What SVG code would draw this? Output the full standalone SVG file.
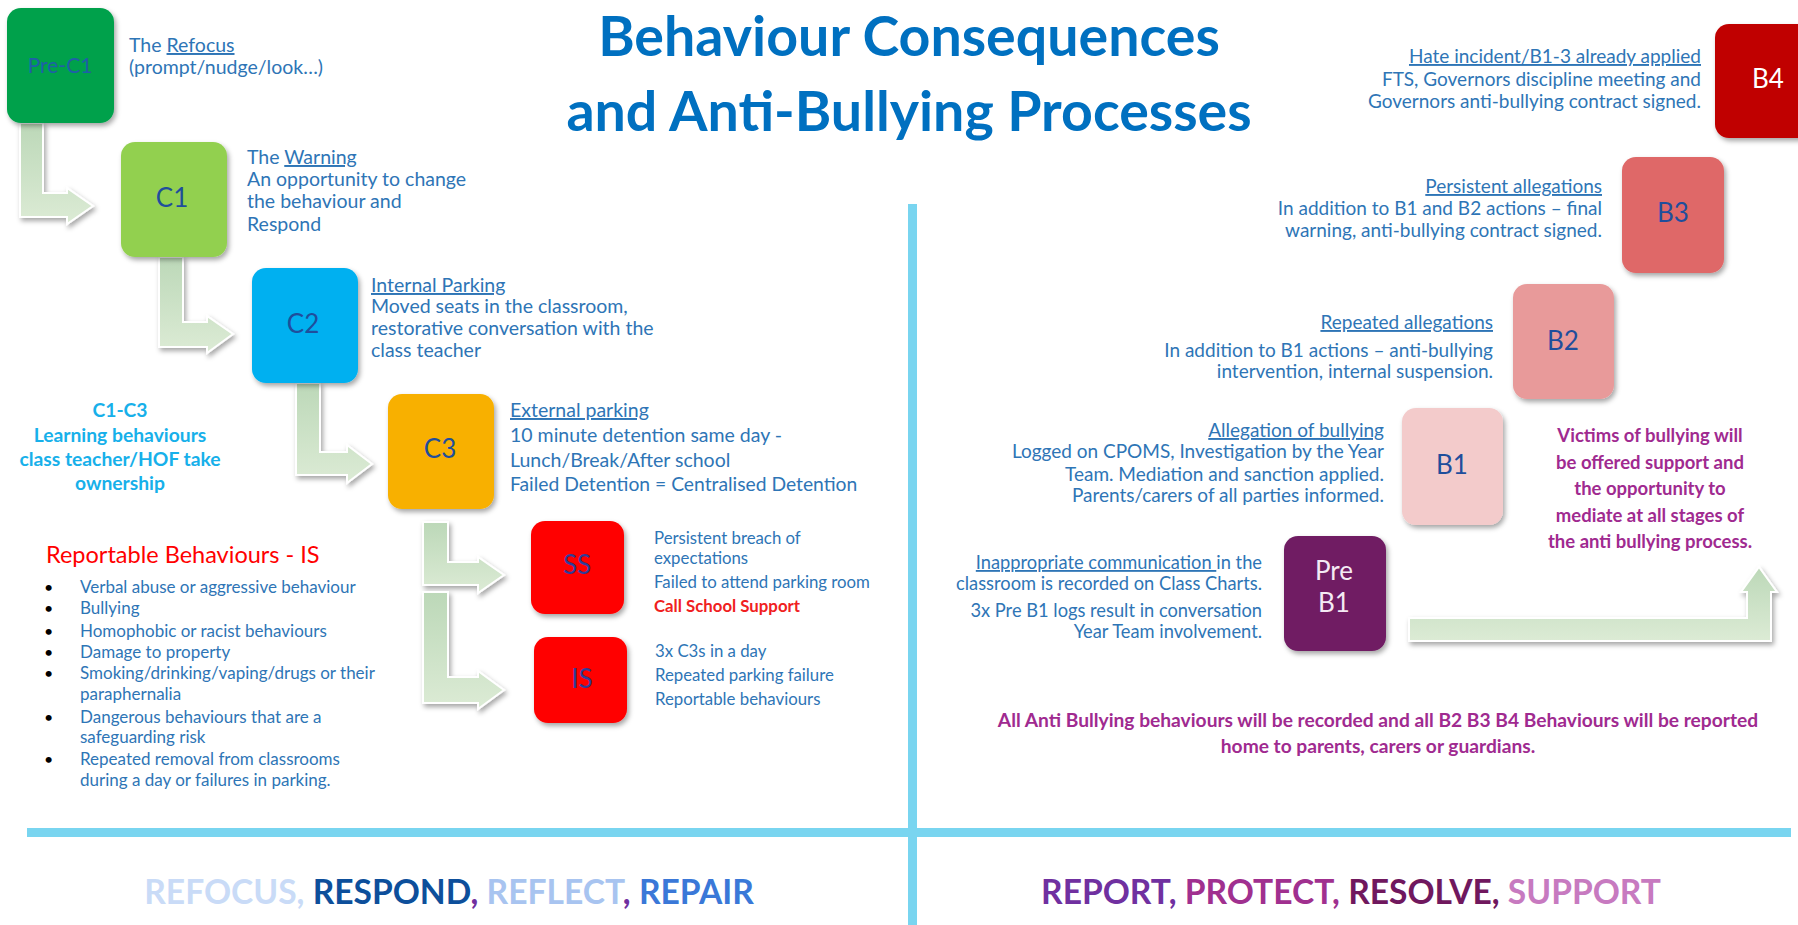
<svg xmlns="http://www.w3.org/2000/svg" width="1798" height="925" viewBox="0 0 1798 925">
<style>
text{font-family:Lato,"Open Sans","Liberation Sans",sans-serif}
.b{fill:#2e75b6;font-size:19.5px}
.s{fill:#2e75b6;font-size:16.8px}
.l{fill:#2e75b6;font-size:17px}
.r{fill:#2e75b6;font-size:19px;text-anchor:end}
.u{text-decoration:underline}
.lbl{font-size:26px;text-anchor:middle;fill:#1f4e9c}
.arrow{fill:url(#ag);stroke:#fff;stroke-width:2;filter:url(#sh)}
.box{filter:url(#sh)}
.pb{fill:#a02a90;font-weight:bold;font-size:18.5px;text-anchor:middle}
.cy{fill:#17b0ea;font-weight:bold;font-size:19.3px;text-anchor:middle}
.tt{fill:#0070c0;font-weight:bold;font-size:55.5px;text-anchor:middle}
</style>
<defs>
<filter id="sh" x="-20%" y="-20%" width="150%" height="150%"><feDropShadow dx="2" dy="3" stdDeviation="2.5" flood-color="#000" flood-opacity="0.35"/></filter>
<linearGradient id="ag" x1="0" y1="0" x2="0" y2="1"><stop offset="0" stop-color="#bcd8b8"/><stop offset="1" stop-color="#dcebd5"/></linearGradient>
</defs>
<rect width="1798" height="925" fill="#fff"/>
<g id="title"><text class="tt" x="909" y="56">Behaviour Consequences</text><text class="tt" x="909" y="131">and Anti-Bullying Processes</text></g>
<g id="dividers"><rect x="908" y="204" width="9" height="721" fill="#79d5f0"/><rect x="27" y="828" width="1764" height="9" fill="#79d5f0"/></g>
<g id="connectors">
<path class="arrow" d="M20,123 H43 V193 H67 V188 L93,206 L67,224 V217 H20 Z"/>
<path class="arrow" d="M159,257 H183 V322 H207 V316 L233,334 L207,353 V347 H159 Z"/>
<path class="arrow" d="M296,383 H320 V452 H347 V445 L372,464 L347,483 V475 H296 Z"/>
<path class="arrow" d="M423,522 H448 V562 H478 V557 L504,575 L478,593 V585 H423 Z"/>
<path class="arrow" d="M423,592 H448 V677 H478 V671 L504,690 L478,709 V703 H423 Z"/>
<path class="arrow" d="M1409,618 H1747 V592 H1741 L1759,567 L1777,592 H1771 V641 H1409 Z"/>
</g>
<g id="preC1"><rect class="box" x="7" y="8" width="107" height="115" rx="14" fill="#00a14b"/><text x="60" y="73" text-anchor="middle" font-size="21" fill="#1f5fa8">Pre-C1</text>
<text class="b" x="129" y="52">The <tspan class="u">Refocus</tspan></text><text class="b" x="129" y="74">(prompt/nudge/look…)</text></g>
<g id="C1"><rect class="box" x="121" y="142" width="106" height="115" rx="14" fill="#92d050"/><text class="lbl" x="172" y="207">C1</text>
<text class="b" x="247" y="164">The <tspan class="u">Warning</tspan></text><text class="b" x="247" y="186">An opportunity to change</text><text class="b" x="247" y="208">the behaviour and</text><text class="b" x="247" y="231">Respond</text></g>
<g id="C2"><rect class="box" x="252" y="268" width="106" height="115" rx="14" fill="#00b0f0"/><text class="lbl" x="303" y="333">C2</text>
<text class="b" x="371" y="292"><tspan class="u">Internal Parking</tspan></text><text class="b" x="371" y="313">Moved seats in the classroom,</text><text class="b" x="371" y="335">restorative conversation with the</text><text class="b" x="371" y="357">class teacher</text></g>
<g id="C3"><rect class="box" x="388" y="394" width="106" height="115" rx="14" fill="#f8b000"/><text class="lbl" x="440" y="458">C3</text>
<text class="b" x="510" y="417"><tspan class="u">External parking</tspan></text><text class="b" x="510" y="442">10 minute detention same day -</text><text class="b" x="510" y="467">Lunch/Break/After school</text><text class="b" x="510" y="491" style="font-size:19.3px">Failed Detention = Centralised Detention</text></g>
<g id="C1C3note"><text class="cy" x="120" y="417">C1-C3</text><text class="cy" x="120" y="442">Learning behaviours</text><text class="cy" x="120" y="466">class teacher/HOF take</text><text class="cy" x="120" y="490">ownership</text></g>
<g id="SS"><rect class="box" x="531" y="521" width="93" height="93" rx="14" fill="#ff0000"/><text class="lbl" x="577" y="574" style="fill:#2f3d99">SS</text>
<text class="s" x="654" y="544">Persistent breach of</text><text class="s" x="654" y="564">expectations</text><text class="s" x="654" y="588">Failed to attend parking room</text><text class="s" x="654" y="612" font-weight="bold" style="fill:#f02020">Call School Support</text></g>
<g id="IS"><rect class="box" x="534" y="637" width="93" height="86" rx="14" fill="#ff0000"/><text class="lbl" x="582" y="688" style="fill:#2f3d99">IS</text>
<text class="s" x="655" y="657">3x C3s in a day</text><text class="s" x="655" y="681">Repeated parking failure</text><text class="s" x="655" y="705">Reportable behaviours</text></g>
<g id="reportable"><text x="46" y="563" font-size="23.5" fill="#ff0000">Reportable Behaviours - IS</text>
<g font-size="16" fill="#000"><text x="44" y="593">•</text><text x="44" y="614">•</text><text x="44" y="637">•</text><text x="44" y="658">•</text><text x="44" y="679">•</text><text x="44" y="723">•</text><text x="44" y="765">•</text></g>
<text class="l" x="80" y="593">Verbal abuse or aggressive behaviour</text>
<text class="l" x="80" y="614">Bullying</text>
<text class="l" x="80" y="637">Homophobic or racist behaviours</text>
<text class="l" x="80" y="658">Damage to property</text>
<text class="l" x="80" y="679">Smoking/drinking/vaping/drugs or their</text>
<text class="l" x="80" y="700">paraphernalia</text>
<text class="l" x="80" y="723">Dangerous behaviours that are a</text>
<text class="l" x="80" y="743">safeguarding risk</text>
<text class="l" x="80" y="765">Repeated removal from classrooms</text>
<text class="l" x="80" y="786">during a day or  failures in parking.</text></g>
<g id="B4"><rect class="box" x="1715" y="24" width="102" height="114" rx="14" fill="#c00000"/><text class="lbl" x="1768" y="88" style="fill:#ffffff">B4</text>
<text class="r" x="1701" y="63"><tspan class="u">Hate incident/B1-3 already applied</tspan></text><text class="r" x="1701" y="86">FTS, Governors discipline meeting and</text><text class="r" x="1701" y="108">Governors anti-bullying contract signed.</text></g>
<g id="B3"><rect class="box" x="1622" y="157" width="102" height="116" rx="14" fill="#df6767"/><text class="lbl" x="1673" y="222">B3</text>
<text class="r" x="1602" y="193"><tspan class="u">Persistent allegations</tspan></text><text class="r" x="1602" y="215">In addition to B1 and B2 actions – final</text><text class="r" x="1602" y="237">warning, anti-bullying contract signed.</text></g>
<g id="B2"><rect class="box" x="1513" y="284" width="101" height="115" rx="14" fill="#e89a9a"/><text class="lbl" x="1563" y="350">B2</text>
<text class="r" x="1493" y="329"><tspan class="u">Repeated allegations</tspan></text><text class="r" x="1493" y="357">In addition to B1 actions – anti-bullying</text><text class="r" x="1493" y="378">intervention, internal suspension.</text></g>
<g id="B1"><rect class="box" x="1402" y="408" width="101" height="117" rx="14" fill="#f3cbcb"/><text class="lbl" x="1452" y="474">B1</text>
<text class="r" x="1384" y="437"><tspan class="u">Allegation of bullying</tspan></text><text class="r" x="1384" y="458">Logged on CPOMS, Investigation by the Year</text><text class="r" x="1384" y="481">Team. Mediation and sanction applied.</text><text class="r" x="1384" y="502">Parents/carers of all parties informed.</text></g>
<g id="preB1"><rect class="box" x="1284" y="536" width="102" height="115" rx="14" fill="#6f1d63"/><text class="lbl" x="1334" y="580" style="fill:#f4eaf4">Pre</text><text class="lbl" x="1334" y="612" style="fill:#f4eaf4">B1</text>
<text class="r" x="1262" y="569" style="font-size:18.3px"><tspan class="u">Inappropriate communication </tspan>in the</text><text class="r" x="1262" y="590" style="font-size:18.3px">classroom is recorded on Class Charts.</text><text class="r" x="1262" y="617" style="font-size:18.3px">3x Pre B1 logs result in conversation</text><text class="r" x="1262" y="638" style="font-size:18.3px">Year Team involvement.</text></g>
<g id="victims"><text class="pb" x="1650" y="442">Victims of bullying will</text><text class="pb" x="1650" y="468.5">be offered support and</text><text class="pb" x="1650" y="495">the opportunity to</text><text class="pb" x="1650" y="521.5">mediate at all stages of</text><text class="pb" x="1650" y="548">the anti bullying process.</text></g>
<g id="allnote"><text class="pb" x="1378" y="727" style="font-size:19.2px">All Anti Bullying behaviours will be recorded and all B2 B3 B4 Behaviours will be reported</text><text class="pb" x="1378" y="753" style="font-size:19.2px">home to parents, carers or guardians.</text></g>
<g id="mottos" font-weight="bold" font-size="33.6">
<text x="449" y="904" text-anchor="middle"><tspan fill="#c9dbf7">REFOCUS, </tspan><tspan fill="#0d4f9b">RESPOND</tspan><tspan fill="#7030a0">, </tspan><tspan fill="#a8c4f0">REFLECT</tspan><tspan fill="#7030a0">, </tspan><tspan fill="#3a78d8">REPAIR</tspan></text>
<text x="1351" y="904" text-anchor="middle"><tspan fill="#7030a0">REPORT, </tspan><tspan fill="#a0308f">PROTECT, </tspan><tspan fill="#70185e">RESOLVE, </tspan><tspan fill="#c77ac0">SUPPORT</tspan></text>
</g>
</svg>
